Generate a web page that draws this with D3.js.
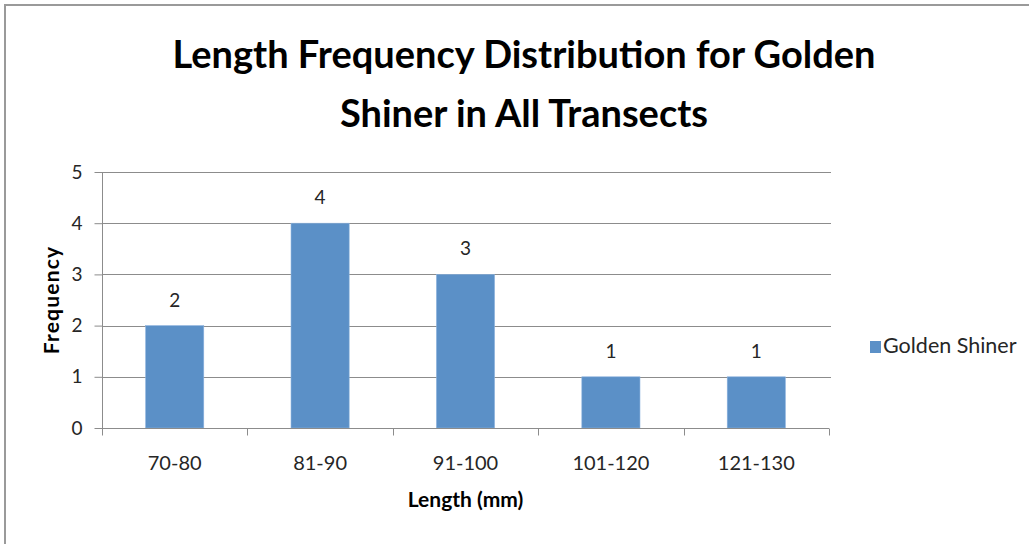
<!DOCTYPE html>
<html>
<head>
<meta charset="utf-8">
<script src="https://cdn.jsdelivr.net/npm/d3@7"></script>
<style>
  html, body { margin: 0; padding: 0; background: #fff; }
  svg { display: block; }
  text { font-family: Lato, "Open Sans", "Noto Sans", sans-serif; }
</style>
</head>
<body>
<svg id="chart" width="1029" height="544"></svg>
<script>
// Length-class frequencies for Golden Shiner across all transects
const categories = ["70-80", "81-90", "91-100", "101-120", "121-130"];
const frequencies = [2, 4, 3, 1, 1];
const yTicks = [0, 1, 2, 3, 4, 5];
const titleLines = ["Length Frequency Distribution for Golden", "Shiner in All Transects"];
const seriesName = "Golden Shiner";
const xTitle = "Length (mm)";
const yTitle = "Frequency";

const W = 1029, H = 544;
const plot = { left: 102, right: 829, top: 172, bottom: 428 };
const barColor = "#5B90C7";
const gridColor = "#8C8C8C";
const textColor = "#262626";

const svg = d3.select("#chart");

// chart frame (only top and left edges fall inside the view)
svg.append("rect")
  .attr("x", 5).attr("y", 5)
  .attr("width", W + 20).attr("height", H + 20)
  .attr("fill", "#fff")
  .attr("stroke", "#9A9A9A").attr("stroke-width", 2);

const x = d3.scaleBand()
  .domain(categories)
  .range([plot.left, plot.right])
  .padding(0);

const y = d3.scaleLinear()
  .domain([0, 5])
  .range([plot.bottom, plot.top]);

// horizontal gridlines
svg.append("g")
  .selectAll("line")
  .data(yTicks.filter(d => d > 0))
  .join("line")
  .attr("x1", plot.left).attr("x2", plot.right + 2)
  .attr("y1", d => Math.round(y(d)) + 0.5)
  .attr("y2", d => Math.round(y(d)) + 0.5)
  .attr("stroke", gridColor).attr("stroke-width", 1);

// y axis
const yAxis = svg.append("g")
  .attr("transform", `translate(${plot.left + 0.5},0)`)
  .call(d3.axisLeft(y).tickValues(yTicks).tickSize(8).tickPadding(12).tickFormat(d3.format("d")));
yAxis.select(".domain").attr("stroke", gridColor).attr("d", `M0,${plot.top}V${plot.bottom}`);
yAxis.selectAll(".tick line").attr("stroke", gridColor);
yAxis.selectAll(".tick text")
  .attr("fill", textColor)
  .style("font-size", "19px")
  .style("font-family", "Lato, 'Open Sans', sans-serif");

// bars
const barW = x.bandwidth() * 0.4;
svg.append("g")
  .selectAll("rect")
  .data(categories.map((c, i) => ({ c, v: frequencies[i] })))
  .join("rect")
  .attr("x", d => x(d.c) + (x.bandwidth() - barW) / 2)
  .attr("y", d => y(d.v))
  .attr("width", barW)
  .attr("height", d => y(0) - y(d.v))
  .attr("fill", barColor)
  .attr("stroke", "#8DB3DE").attr("stroke-width", 0.6);

// value labels
svg.append("g")
  .selectAll("text")
  .data(categories.map((c, i) => ({ c, v: frequencies[i] })))
  .join("text")
  .attr("x", d => x(d.c) + x.bandwidth() / 2)
  .attr("y", d => y(d.v) - 19)
  .attr("text-anchor", "middle")
  .attr("fill", textColor)
  .style("font-size", "19px")
  .text(d => d.v);

// x axis with boundary ticks between categories
const xAxisG = svg.append("g").attr("transform", `translate(0,${plot.bottom + 0.5})`);
xAxisG.append("line")
  .attr("x1", plot.left).attr("x2", plot.right)
  .attr("stroke", gridColor);
xAxisG.selectAll("line.tk")
  .data(categories.map(c => x(c)).concat([plot.right]))
  .join("line").attr("class", "tk")
  .attr("x1", d => Math.round(d) + 0.5).attr("x2", d => Math.round(d) + 0.5)
  .attr("y1", 0).attr("y2", 7)
  .attr("stroke", gridColor);
xAxisG.selectAll("text")
  .data(categories)
  .join("text")
  .attr("x", d => x(d) + x.bandwidth() / 2)
  .attr("y", 41)
  .attr("text-anchor", "middle")
  .attr("fill", textColor)
  .style("font-size", "20px")
  .text(d => d);

// axis titles
svg.append("text")
  .attr("x", (plot.left + plot.right) / 2)
  .attr("y", 507)
  .attr("text-anchor", "middle")
  .attr("fill", "#000")
  .style("font-size", "21px").style("font-weight", "bold")
  .text(xTitle);

svg.append("text")
  .attr("transform", `translate(59,${(plot.top + plot.bottom) / 2}) rotate(-90)`)
  .attr("text-anchor", "middle")
  .attr("fill", "#000")
  .style("font-size", "21px").style("font-weight", "bold")
  .attr("letter-spacing", "1.2px")
  .text(yTitle);

// title
svg.append("g")
  .selectAll("text")
  .data(titleLines)
  .join("text")
  .attr("x", 524)
  .attr("y", (d, i) => 68 + i * 59)
  .attr("text-anchor", "middle")
  .attr("fill", "#000")
  .style("font-size", "38px").style("font-weight", "bold")
  .text(d => d);

// legend
const lg = svg.append("g").attr("transform", "translate(870,341)");
lg.append("rect").attr("width", 11).attr("height", 12).attr("fill", barColor);
lg.append("text")
  .attr("x", 13).attr("y", 12)
  .attr("fill", textColor)
  .style("font-size", "21.5px")
  .text(seriesName);
</script>
</body>
</html>
